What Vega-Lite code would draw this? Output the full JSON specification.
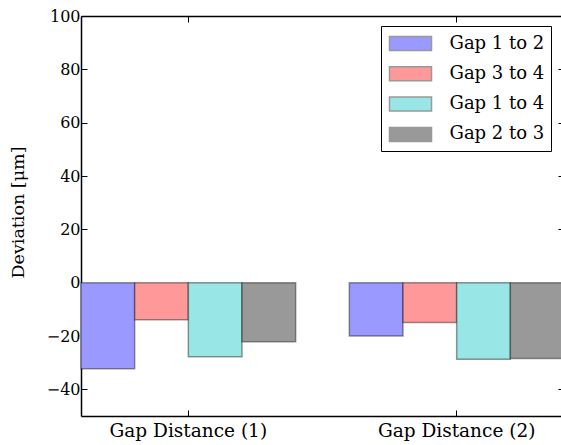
{
  "$schema": "https://vega.github.io/schema/vega-lite/v6.json",
  "width": 483,
  "height": 400,
  "autosize": {"type": "none"},
  "padding": {"left": 81, "top": 16, "right": 0, "bottom": 30},
  "background": "white",
  "config": {
    "view": {"stroke": null},
    "font": "DejaVu Serif",
    "axis": {
      "grid": false,
      "domainColor": "black",
      "domainWidth": 1.5,
      "tickColor": "black",
      "tickWidth": 1,
      "tickSize": -6,
      "labelColor": "black",
      "labelFontSize": 16,
      "labelFont": "DejaVu Serif",
      "titleFont": "DejaVu Serif",
      "titleFontSize": 17.5,
      "titleColor": "black",
      "titleFontWeight": "normal",
      "zindex": 1
    }
  },
  "data": {
    "values": [
      {"group": "Gap Distance (1)", "gap": "Gap 1 to 2", "value": -32.3},
      {"group": "Gap Distance (1)", "gap": "Gap 3 to 4", "value": -13.9},
      {"group": "Gap Distance (1)", "gap": "Gap 1 to 4", "value": -27.8},
      {"group": "Gap Distance (1)", "gap": "Gap 2 to 3", "value": -22.2},
      {"group": "Gap Distance (2)", "gap": "Gap 1 to 2", "value": -20.0},
      {"group": "Gap Distance (2)", "gap": "Gap 3 to 4", "value": -14.9},
      {"group": "Gap Distance (2)", "gap": "Gap 1 to 4", "value": -28.7},
      {"group": "Gap Distance (2)", "gap": "Gap 2 to 3", "value": -28.4}
    ]
  },
  "layer": [
    {
      "mark": {"type": "bar", "stroke": "black", "strokeOpacity": 0.4, "strokeWidth": 1.5},
      "encoding": {
        "x": {
          "field": "group",
          "type": "nominal",
          "sort": ["Gap Distance (1)", "Gap Distance (2)"],
          "scale": {"paddingInner": 0.2, "paddingOuter": 0},
          "axis": {"orient": "bottom", "title": null, "labelAngle": 0, "labelPadding": 11, "labelFontSize": 18.5}
        },
        "xOffset": {
          "field": "gap",
          "type": "nominal",
          "sort": ["Gap 1 to 2", "Gap 3 to 4", "Gap 1 to 4", "Gap 2 to 3"]
        },
        "y": {
          "field": "value",
          "type": "quantitative",
          "scale": {"domain": [-50, 100], "nice": false, "zero": false},
          "axis": {
            "orient": "left",
            "title": "Deviation [μm]",
            "values": [-40, -20, 0, 20, 40, 60, 80, 100],
            "labelPadding": 7,
            "titleAngle": -90,
            "titleX": -63,
            "titleY": 196,
            "titleAlign": "center",
            "titleBaseline": "middle"
          }
        },
        "fill": {
          "field": "gap",
          "type": "nominal",
          "sort": ["Gap 1 to 2", "Gap 3 to 4", "Gap 1 to 4", "Gap 2 to 3"],
          "scale": {
            "domain": ["Gap 1 to 2", "Gap 3 to 4", "Gap 1 to 4", "Gap 2 to 3"],
            "range": ["#9999ff", "#ff9999", "#99e6e6", "#999999"]
          },
          "legend": {
            "title": null,
            "orient": "none",
            "legendX": 300,
            "legendY": 10,
            "strokeColor": "black",
            "fillColor": "white",
            "padding": 6.5,
            "cornerRadius": 0,
            "symbolType": "M-2.1,-0.7H2.1V0.7H-2.1Z",
            "symbolSize": 400,
            "symbolOffset": 12,
            "labelOffset": 28,
            "rowPadding": 9.3,
            "labelFontSize": 18,
            "labelFont": "DejaVu Serif",
            "labelColor": "black",
            "symbolStrokeColor": "#999999",
            "symbolStrokeWidth": 1.5,
            "symbolOpacity": 1
          }
        }
      }
    },
    {
      "mark": {"type": "tick", "opacity": 0},
      "encoding": {
        "x": {
          "field": "group",
          "type": "nominal",
          "axis": {"orient": "top", "title": null, "labels": false}
        },
        "y": {
          "field": "value",
          "type": "quantitative",
          "axis": {"orient": "right", "title": null, "labels": false, "values": [-40, -20, 0, 20, 40, 60, 80, 100]}
        }
      }
    }
  ],
  "resolve": {"axis": {"x": "independent", "y": "independent"}}
}
